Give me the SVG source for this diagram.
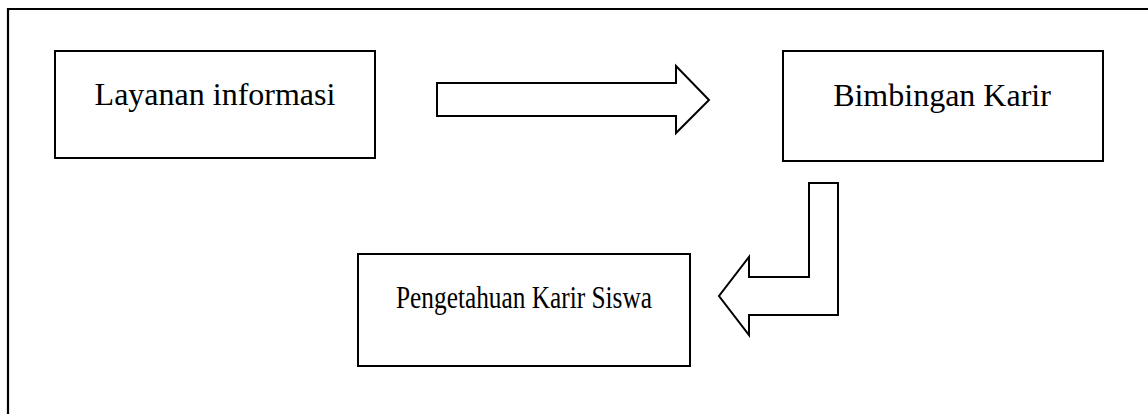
<svg xmlns="http://www.w3.org/2000/svg" width="1148" height="414" viewBox="0 0 1148 414">
<style>
.box{fill:#fff;stroke:#000;stroke-width:2}
.arr{fill:#fff;stroke:#000;stroke-width:2;stroke-linejoin:miter}
.lbl{font-family:"Liberation Serif","Times New Roman",serif;font-size:32px;fill:#000;text-anchor:middle}
</style>
<rect width="1148" height="414" fill="#fff"/>
<path d="M8,414 L8,9 L1148,9" fill="none" stroke="#000" stroke-width="2.2"/>
<g id="node-layanan">
<rect class="box" x="55" y="51" width="320" height="107"/>
<text class="lbl" x="215" y="105">Layanan informasi</text>
</g>
<g id="node-bimbingan">
<rect class="box" x="783" y="51" width="320" height="110"/>
<text class="lbl" x="942" y="106">Bimbingan Karir</text>
</g>
<g id="node-pengetahuan">
<rect class="box" x="358" y="254" width="332" height="112"/>
<text class="lbl" x="524" y="308" textLength="256" lengthAdjust="spacingAndGlyphs">Pengetahuan Karir Siswa</text>
</g>
<g id="connectors">
<path class="arr" d="M437,83 L676,83 L676,66 L709,100 L676,133 L676,116 L437,116 Z"/>
<path class="arr" d="M809,183 L838,183 L838,315 L749,315 L749,335 L719,296 L749,257 L749,277 L809,277 Z"/>
</g>
</svg>
